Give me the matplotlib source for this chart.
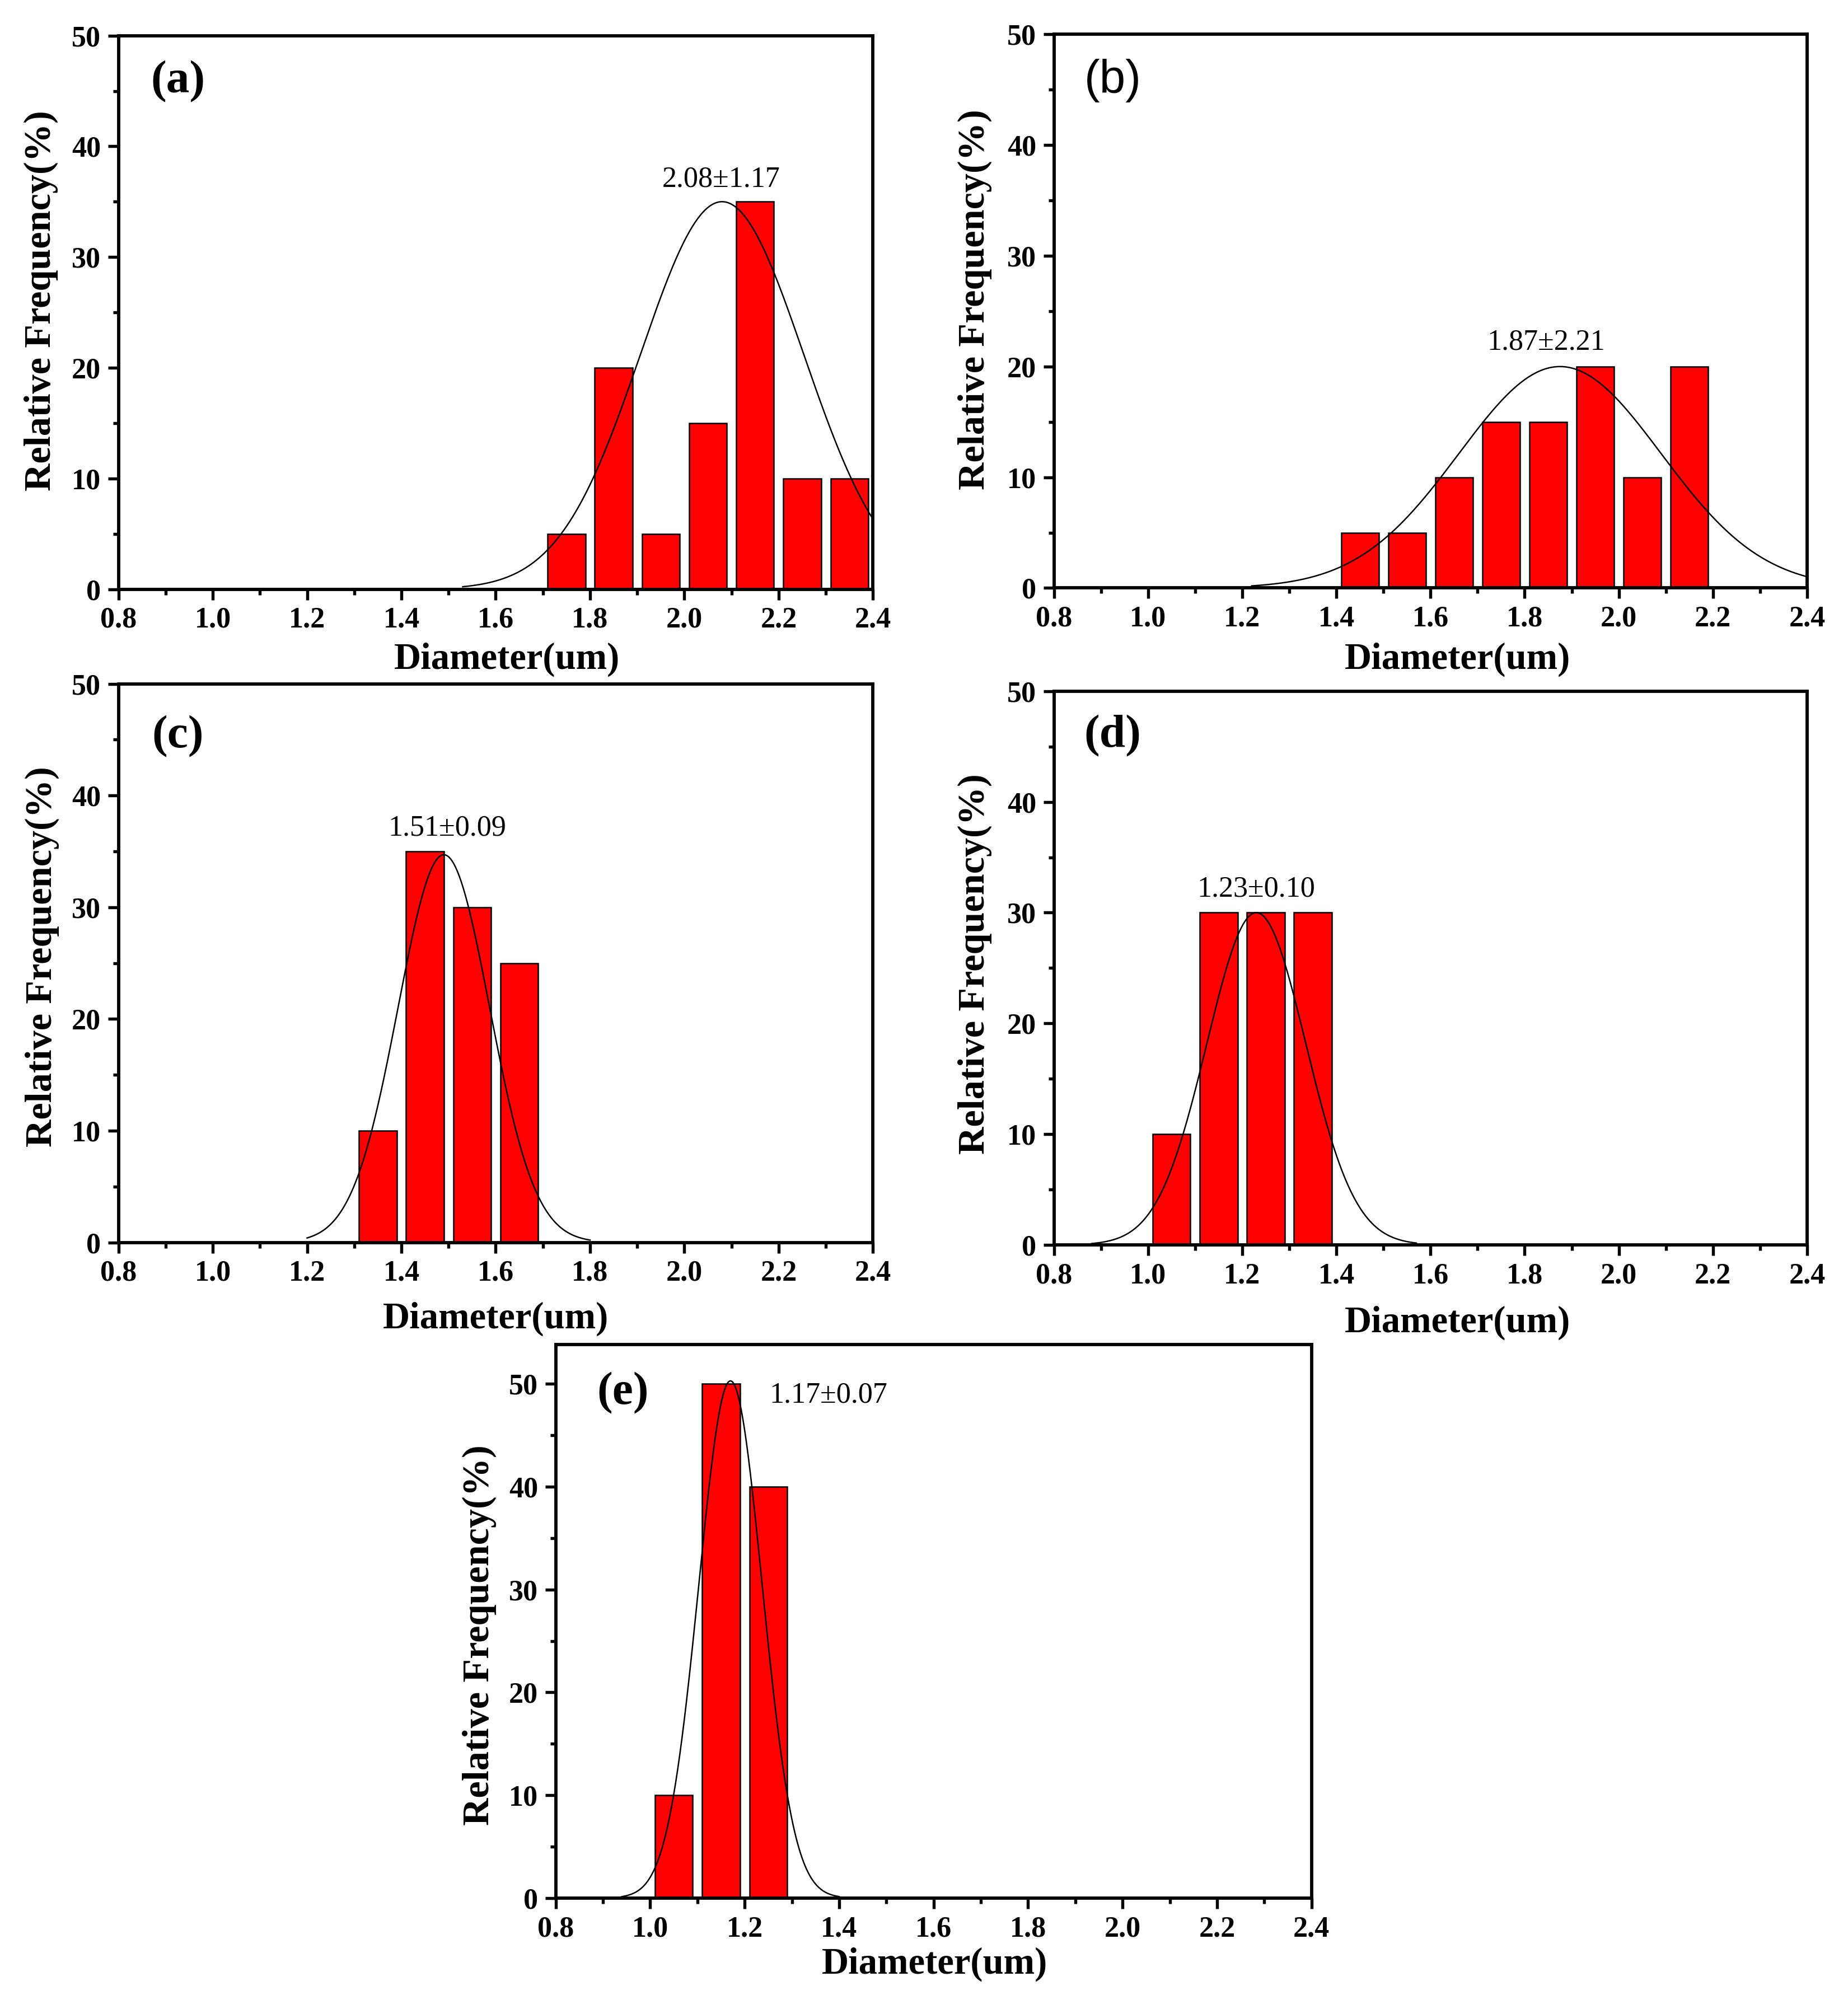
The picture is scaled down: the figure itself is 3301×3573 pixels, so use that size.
import numpy as np
import matplotlib
matplotlib.use("Agg")
import matplotlib.pyplot as plt
from matplotlib.ticker import MultipleLocator

# histogram bins (bin centres, um) and relative frequency (%)
centers_a = [1.75, 1.85, 1.95, 2.05, 2.15, 2.25, 2.35]
freq_a = [5, 20, 5, 15, 35, 10, 10]
centers_b = [1.45, 1.55, 1.65, 1.75, 1.85, 1.95, 2.05, 2.15]
freq_b = [5, 5, 10, 15, 15, 20, 10, 20]
centers_c = [1.35, 1.45, 1.55, 1.65]
freq_c = [10, 35, 30, 25]
centers_d = [1.05, 1.15, 1.25, 1.35]
freq_d = [10, 30, 30, 30]
centers_e = [1.05, 1.15, 1.25]
freq_e = [10, 50, 40]

# gaussian fit: centre, sigma, amplitude, drawn range
fit_a = [2.08, 0.173, 35.0, 1.53, 2.40]
fit_b = [1.875, 0.215, 20.0, 1.22, 2.40]
fit_c = [1.49, 0.097, 34.7, 1.20, 1.80]
fit_d = [1.23, 0.105, 30.0, 0.88, 1.57]
fit_e = [1.17, 0.067, 50.3, 0.94, 1.40]

labels = ["2.08\u00b11.17", "1.87\u00b12.21", "1.51\u00b10.09", "1.23\u00b10.10", "1.17\u00b10.07"]
label_xy = [(2.078, 37.0), (1.845, 22.2), (1.497, 37.1), (1.230, 32.1), (1.377, 48.9)]
panel_tags = ["(a)", "(b)", "(c)", "(d)", "(e)"]

plt.rcParams["font.family"] = "Liberation Serif"

fig = plt.figure(figsize=(3301 / 300, 3573 / 300), dpi=300)

# axes rectangles in figure fractions
rects = [
    [0.0641, 0.7054, 0.4083, 0.2768],
    [0.5703, 0.7060, 0.4076, 0.2768],
    [0.0641, 0.3788, 0.4083, 0.2793],
    [0.5703, 0.3776, 0.4076, 0.2768],
    [0.3007, 0.0510, 0.4090, 0.2768],
]
tag_pos = [(0.079, 0.917), (0.078, 0.917), (0.079, 0.906), (0.078, 0.919), (0.089, 0.912)]
xlab_pos = [(0.515, -0.127), (0.536, -0.129), (0.5, -0.137), (0.536, -0.141), (0.501, -0.120)]
ylab_pos = [(-0.103, 0.521), (-0.105, 0.521), (-0.101, 0.511), (-0.105, 0.507), (-0.101, 0.475)]
ytops = [50, 50, 50, 50, 53.85]

centers = [centers_a, centers_b, centers_c, centers_d, centers_e]
freqs = [freq_a, freq_b, freq_c, freq_d, freq_e]
fits = [fit_a, fit_b, fit_c, fit_d, fit_e]

for i in range(5):
    ax = fig.add_axes(rects[i])
    ax.bar(centers[i], freqs[i], width=0.08, color="#ff0000", edgecolor="black", linewidth=0.6, zorder=2)
    mu, sig, amp, x0, x1 = fits[i]
    xs = np.linspace(x0, x1, 300)
    ax.plot(xs, amp * np.exp(-(xs - mu) ** 2 / (2 * sig ** 2)), color="black", linewidth=0.6, zorder=3)

    ax.set_xlim(0.8, 2.4)
    ax.set_ylim(0, ytops[i])
    ax.xaxis.set_minor_locator(MultipleLocator(0.1))
    ax.yaxis.set_minor_locator(MultipleLocator(5))
    ax.set_xticks(np.arange(0.8, 2.41, 0.2))
    ax.set_xticklabels([f"{v:.1f}" for v in np.arange(0.8, 2.41, 0.2)])
    ax.set_yticks([0, 10, 20, 30, 40, 50])
    ax.tick_params(which="both", direction="out", top=False, right=False, width=1.3)
    ax.tick_params(which="major", length=4.5, labelsize=12.5, pad=3)
    ax.tick_params(which="minor", length=2.3)
    for lab in ax.get_xticklabels() + ax.get_yticklabels():
        lab.set_fontweight("bold")
    for sp in ax.spines.values():
        sp.set_linewidth(1.4)

    ax.set_xlabel("Diameter(um)", fontsize=16, fontweight="bold")
    ax.xaxis.set_label_coords(*xlab_pos[i])
    ax.xaxis.label.set_va("center")
    ax.set_ylabel("Relative Frequency(%)", fontsize=16.4, fontweight="bold")
    ax.yaxis.set_label_coords(*ylab_pos[i])
    ax.yaxis.label.set_va("center")

    if i == 1:
        ax.text(*tag_pos[i], panel_tags[i], transform=ax.transAxes, fontsize=20,
                family="Liberation Sans", ha="center", va="center")
    else:
        ax.text(*tag_pos[i], panel_tags[i], transform=ax.transAxes, fontsize=20,
                fontweight="bold", ha="center", va="center")
    ax.text(*label_xy[i], labels[i], fontsize=12.5, ha="center", va="center")

fig.savefig("out.png", dpi=300)
